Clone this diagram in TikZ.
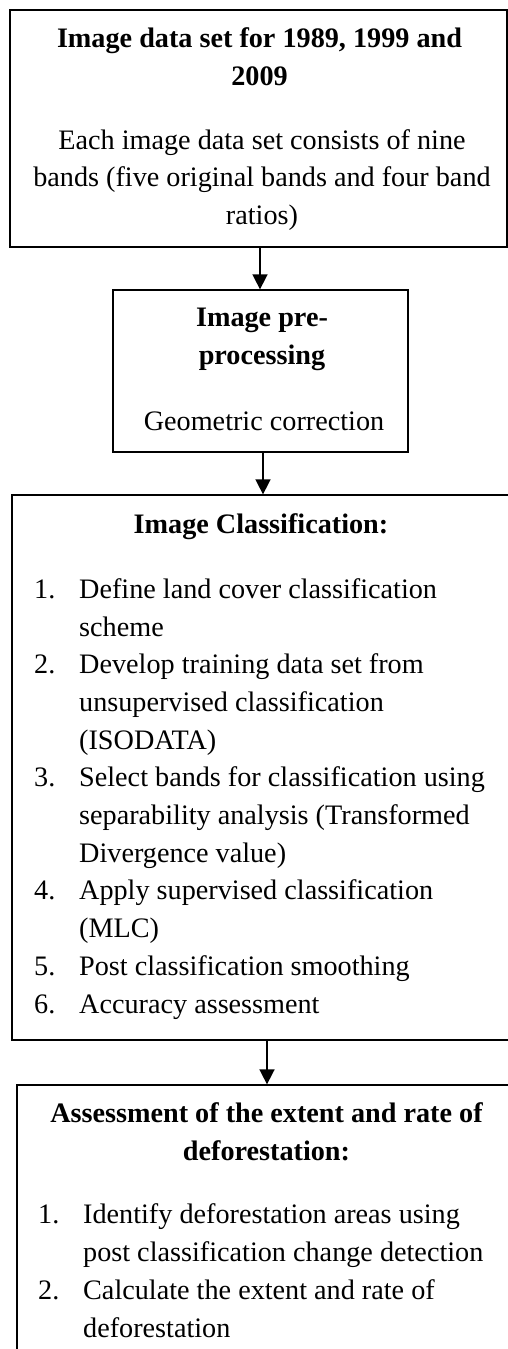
\documentclass[tikz,border=0pt]{standalone}
\usepackage{fontspec}
\setmainfont{Liberation Serif}
\usetikzlibrary{arrows.meta}

% body text size and line spacing of the flow chart
\newcommand\chartfont{\fontsize{28.2}{37.7}\selectfont}
% hanging-indent helpers for the numbered steps
\newcommand\stepno[1]{\makebox[45pt][l]{#1}}
\newcommand\stepgap{\hspace*{45pt}}

% text nodes are placed by the baseline of their last line
\tikzset{
  box/.style={draw=black, line width=1.3pt, inner sep=0pt, fill=none},
  head/.style={font=\chartfont\bfseries, align=center, inner sep=0pt, anchor=base},
  body/.style={font=\chartfont, align=center, inner sep=0pt, anchor=base},
  steps/.style={font=\chartfont, align=left, inner sep=0pt, anchor=base west},
  flow/.style={line width=1.6pt, -{Triangle[width=15pt,length=15pt]}}
}

\begin{document}
\begin{tikzpicture}[x=1pt,y=-1pt]
\useasboundingbox (0,0) rectangle (508,1349);
\clip (0,0) rectangle (508,1349);
\fill[white] (0,0) rectangle (508,1349);

% boxes
\node[box, minimum width=497pt, minimum height=237pt] (b1) at (258.5,128.5) {};
\node[box, minimum width=295pt, minimum height=162pt] (b2) at (260.5,371) {};
\node[box, minimum width=500pt, minimum height=545pt] (b3) at (262,767.5) {};
\node[box, minimum width=500pt, minimum height=330pt] (b4) at (267,1250) {};

% box 1
\node[head] (t1) at (259.5,85) {Image data set for 1989, 1999 and\\2009};
\node[body] (t1b) at (262,224.5) {Each image data set consists of nine\\bands (five original bands and four band\\ratios)};

% box 2
\node[head] (t2) at (262,364.5) {Image pre-\\processing};
\node[body] (t2b) at (264,430) {Geometric correction};

% box 3
\node[head] (t3) at (261,533) {Image Classification:};
\node[steps] (s3) at (34,1013) {%
\stepno{1.}Define land cover classification\\
\stepgap scheme\\
\stepno{2.}Develop training data set from\\
\stepgap unsupervised classification\\
\stepgap (ISODATA)\\
\stepno{3.}Select bands for classification using\\
\stepgap separability analysis (Transformed\\
\stepgap Divergence value)\\
\stepno{4.}Apply supervised classification\\
\stepgap (MLC)\\
\stepno{5.}Post classification smoothing\\
\stepno{6.}Accuracy assessment};

% box 4
\node[head] (t4) at (266.5,1160) {Assessment of the extent and rate of\\deforestation:};
\node[steps] (s4) at (38,1337) {%
\stepno{1.}Identify deforestation areas using\\
\stepgap post classification change detection\\
\stepno{2.}Calculate the extent and rate of\\
\stepgap deforestation};

% connectors
\coordinate (c1) at (260,0);
\coordinate (c2) at (263,0);
\coordinate (c3) at (267,0);
\draw[flow] (b1.south -| c1) -- (b2.north -| c1);
\draw[flow] (b2.south -| c2) -- (b3.north -| c2);
\draw[flow] (b3.south -| c3) -- (b4.north -| c3);
\end{tikzpicture}
\end{document}
